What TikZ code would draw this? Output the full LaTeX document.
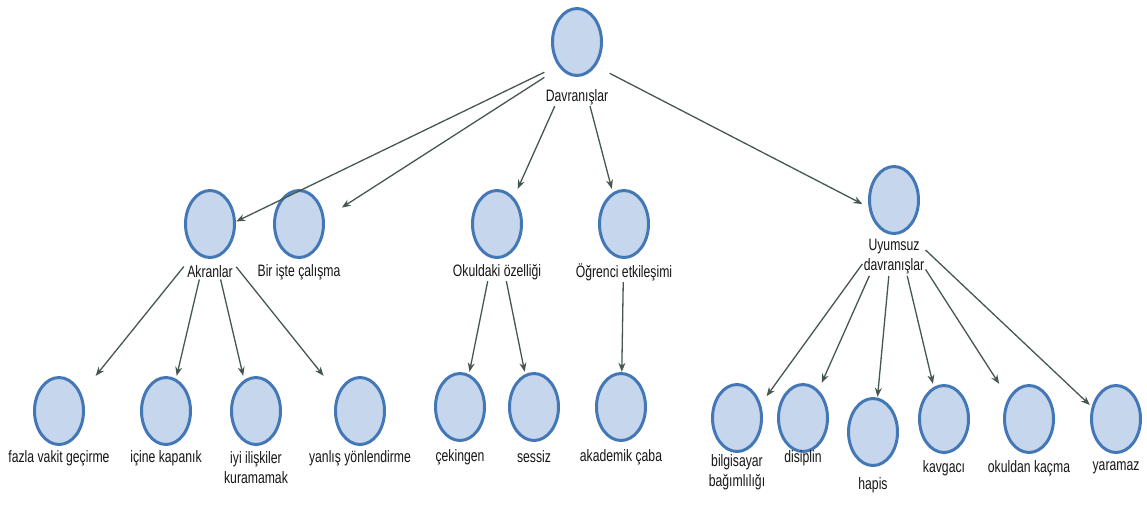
\documentclass[tikz,border=0pt]{standalone}
\usepackage{fontspec}
\setmainfont{Liberation Sans}[FakeStretch=0.74]
\usetikzlibrary{arrows.meta,shapes.geometric,fit}
\definecolor{cfill}{HTML}{C6D6EC}
\definecolor{cborder}{HTML}{4477B5}
\definecolor{cedge}{HTML}{45574F}
\definecolor{ctext}{HTML}{151515}
\tikzset{
  circ/.style={ellipse, draw=cborder, fill=cfill, line width=3pt, minimum width=49pt, minimum height=67pt, inner sep=0pt},
  lbl/.style={font=\fontsize{16.5}{20}\selectfont, text=ctext, align=center, inner sep=1pt},
  grp/.style={inner sep=0pt, draw=none},
  edge/.style={draw=cedge, line width=1.3pt, -{Stealth[length=9pt,width=7pt]}}
}
\newcommand{\mynode}[5]{%
  \node[circ] (#1) at (#2,#3) {};
  \node[lbl] (#1l) at (#2,#4) {#5};
  \node[grp, fit=(#1)(#1l)] (#1g) {};
}
\begin{document}
\begin{tikzpicture}[x=1pt,y=-1pt]
\useasboundingbox (0,0) rectangle (1147,507);
\mynode{D}{577}{42}{97}{Davranışlar}
\mynode{A}{210}{224}{272}{Akranlar}
\mynode{B}{299}{224}{272}{Bir işte çalışma}
\mynode{O}{497}{224}{272}{Okuldaki özelliği}
\mynode{E}{624}{224}{272}{Öğrenci etkileşimi}
\mynode{U}{894}{200}{257}{Uyumsuz\\davranışlar}
\mynode{Fa}{59}{411}{458}{fazla vakit geçirme}
\mynode{Fb}{166}{411}{458}{içine kapanık}
\mynode{Fc}{256}{411}{468}{iyi ilişkiler\\kuramamak}
\mynode{Fd}{360}{411}{458}{yanlış yönlendirme}
\mynode{Ca}{460}{407}{457}{çekingen}
\mynode{Cb}{534}{407}{457}{sessiz}
\mynode{K}{621}{407}{457}{akademik çaba}
\mynode{Ua}{737}{418}{472}{bilgisayar\\bağımlılığı}
\mynode{Ub}{803}{418}{458}{disiplin}
\mynode{Uc}{873}{432}{485}{hapis}
\mynode{Ud}{944}{419}{468}{kavgacı}
\mynode{Ue}{1029}{419}{468}{okuldan kaçma}
\mynode{Uf}{1116}{419}{468}{yaramaz}
\draw[edge] (Dg) -- (Ag);
\draw[edge] (Dg) -- (Bg);
\draw[edge] (Dg) -- (Og);
\draw[edge] (Dg) -- (Eg);
\draw[edge] (Dg) -- (Ug);
\draw[edge] (Ag) -- (Fag);
\draw[edge] (Ag) -- (Fbg);
\draw[edge] (Ag) -- (Fcg);
\draw[edge] (Ag) -- (Fdg);
\draw[edge] (Og) -- (Cag);
\draw[edge] (Og) -- (Cbg);
\draw[edge] (Eg) -- (Kg);
\draw[edge] (Ug) -- (Uag);
\draw[edge] (Ug) -- (Ubg);
\draw[edge] (Ug) -- (Ucg);
\draw[edge] (Ug) -- (Udg);
\draw[edge] (Ug) -- (Ueg);
\draw[edge] (Ug) -- (Ufg);
\end{tikzpicture}
\end{document}
